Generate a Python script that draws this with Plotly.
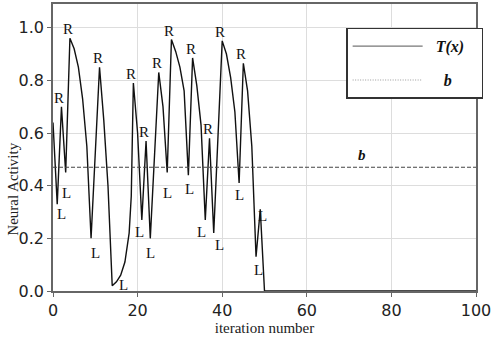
import plotly.graph_objects as go

# Network response T(x) per iteration
iterations = [0, 1, 2, 3, 4, 5, 6, 7, 8, 9, 11, 12, 13, 14, 15, 16, 17, 18, 18.5,
              19, 20, 21, 22, 23, 25, 26, 27, 28, 29, 30, 31, 32, 33, 34, 35, 36,
              37, 38, 40, 41, 42, 43, 44, 45, 46, 47, 48, 49, 50, 100]
activity = [0.64, 0.33, 0.70, 0.45, 0.96, 0.92, 0.85, 0.73, 0.55, 0.20, 0.85,
            0.65, 0.40, 0.02, 0.035, 0.06, 0.11, 0.22, 0.36,
            0.79, 0.60, 0.27, 0.57, 0.20, 0.83, 0.70, 0.45, 0.955, 0.91, 0.85,
            0.76, 0.44, 0.885, 0.78, 0.63, 0.27,
            0.58, 0.22, 0.95, 0.90, 0.81, 0.68, 0.41, 0.865, 0.76, 0.55, 0.13,
            0.31, 0.0, 0.0]

# Threshold level
b_level = 0.47

# Turning points marked on the curve
right_iters = [2, 4, 11, 19, 22, 25, 28, 33, 37, 40, 45]
left_iters = [1, 3, 9, 14, 21, 23, 27, 32, 36, 38, 44, 48, 49]

# pixel offsets of the "L" markers relative to their points
left_dx = [4, 1, 4, 11, -2, 0, 0, 1, -4, 6, 0, 2, 2]
left_dy = [-10, -20, -15, 1, -12, -15, -20, -14, -12, -12, -12, -13, -7]

x_ticks = [0, 20, 40, 60, 80, 100]
y_ticks = [0.0, 0.2, 0.4, 0.6, 0.8, 1.0]

SERIF = "Liberation Serif"
SANS = "DejaVu Sans"
PAD = "&nbsp;"

fig = go.Figure()

fig.add_trace(go.Scatter(x=iterations, y=activity, mode="lines",
                         line=dict(color="#111111", width=1.4),
                         showlegend=False, hoverinfo="skip"))
fig.add_trace(go.Scatter(x=[x_ticks[0], x_ticks[-1]], y=[b_level, b_level],
                         mode="lines",
                         line=dict(color="#444444", width=1.2, dash="4px,2px"),
                         showlegend=False, hoverinfo="skip"))

# legend entries
fig.add_trace(go.Scatter(x=[None], y=[None], mode="lines",
                         name=PAD * 2 + "<b><i>T(x)</i></b>" + PAD * 3,
                         legendgroup="a",
                         line=dict(color="#777777", width=1.3)))
fig.add_trace(go.Scatter(x=[None], y=[None], mode="lines",
                         name=PAD * 4 + "<b><i>b</i></b>",
                         legendgroup="b",
                         line=dict(color="#999999", width=1.2, dash="1px,1.5px")))

lookup = dict(zip(iterations, activity))

annotations = []
for it in right_iters:
    annotations.append(dict(x=it, y=lookup[it], text="R", showarrow=False,
                            xshift=-2, yshift=9,
                            font=dict(family=SERIF, size=15, color="#111111")))
for it, dx, dy in zip(left_iters, left_dx, left_dy):
    annotations.append(dict(x=it, y=lookup[it], text="L", showarrow=False,
                            xshift=dx, yshift=dy,
                            font=dict(family=SERIF, size=15, color="#111111")))
annotations.append(dict(x=73, y=b_level, text="<b><i>b</i></b>", showarrow=False,
                        yshift=12,
                        font=dict(family=SERIF, size=15, color="#111111")))
annotations.append(dict(x=0, y=0.353, xref="paper", yref="paper",
                        xanchor="center", yanchor="middle",
                        text="Neural Activity", textangle=-90, showarrow=False,
                        xshift=-40,
                        font=dict(family=SERIF, size=15, color="#222222")))

fig.update_layout(
    width=493, height=337,
    margin=dict(l=53, r=16, t=2, b=46),
    paper_bgcolor="white", plot_bgcolor="white",
    annotations=annotations,
    legend=dict(x=0.693, y=0.917, xanchor="left", yanchor="top",
                bordercolor="#333333", borderwidth=1.5, bgcolor="white",
                font=dict(family=SERIF, size=16, color="#111111"),
                itemwidth=70, traceorder="grouped", tracegroupgap=10),
)
fig.update_xaxes(range=[0, 100], tickvals=x_ticks, showgrid=True,
                 gridcolor="#dddddd", gridwidth=1, zeroline=False,
                 showline=True, linecolor="#666666", linewidth=1.5, mirror=True,
                 ticks="outside", ticklen=4, tickcolor="#666666",
                 tickfont=dict(family=SANS, size=16, color="#222222"),
                 title=dict(text="iteration number", standoff=0,
                            font=dict(family=SERIF, size=15, color="#222222")))
fig.update_yaxes(range=[0, 1.09], tickvals=y_ticks, tickformat=".1f",
                 showgrid=True, gridcolor="#dddddd", gridwidth=1, zeroline=False,
                 showline=True, linecolor="#666666", linewidth=1.5, mirror=True,
                 ticks="outside", ticklen=4, tickcolor="#666666",
                 tickfont=dict(family=SANS, size=16, color="#222222"))

fig.write_html("out.html")
